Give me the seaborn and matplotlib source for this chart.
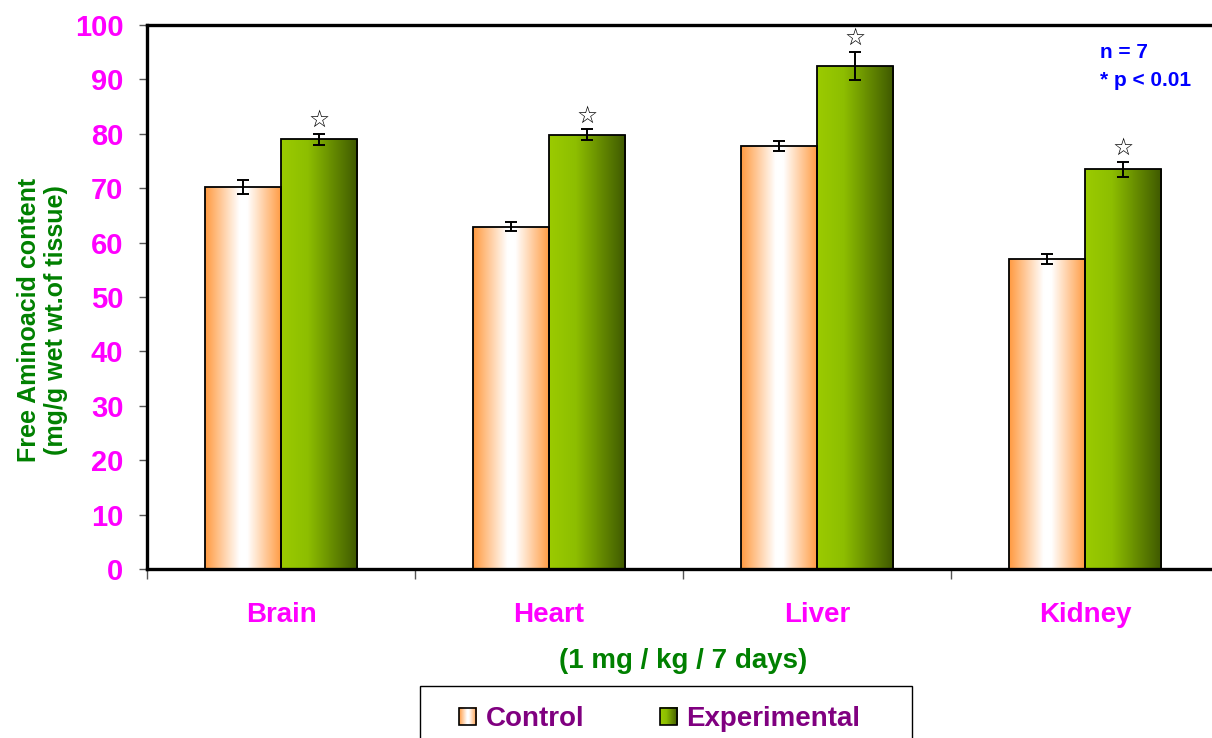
import numpy as np
import pandas as pd
import matplotlib
matplotlib.use("Agg")
import matplotlib.pyplot as plt
import seaborn as sns
from matplotlib.colors import LinearSegmentedColormap
from matplotlib.patches import Rectangle
from matplotlib.legend_handler import HandlerBase
from matplotlib.image import BboxImage
from matplotlib.transforms import Bbox, TransformedBbox

# Tissue free amino acid content (mean ± SE), 1 mg/kg for 7 days
organs = ["Brain", "Heart", "Liver", "Kidney"]
groups = ["Control", "Experimental"]
control = [70.2, 62.9, 77.8, 57.0]
control_se = [1.3, 0.8, 0.95, 0.9]
experimental = [79.0, 79.8, 92.5, 73.5]
experimental_se = [1.0, 1.0, 2.6, 1.4]
y_ticks = [0, 10, 20, 30, 40, 50, 60, 70, 80, 90, 100]

df = pd.DataFrame({
    "organ": organs * 2,
    "group": [groups[0]] * 4 + [groups[1]] * 4,
    "value": control + experimental,
})

sns.set_style("ticks")
plt.rcParams["font.family"] = ["Liberation Sans", "DejaVu Sans"]
plt.rcParams["font.weight"] = "bold"

MAGENTA = "#FF00FF"
GREEN = "#008000"
PURPLE = "#800080"
BLUE = "#0000FF"

cmaps = {
    "Control": LinearSegmentedColormap.from_list(
        "ctrl", [(0, "#FF9A40"), (0.45, "#FFFFFF"), (0.55, "#FFFFFF"), (1, "#FF9A40")]),
    "Experimental": LinearSegmentedColormap.from_list(
        "expt", [(0, "#9BCB00"), (0.35, "#8DBE00"), (1, "#3E5800")]),
}

fig = plt.figure(figsize=(12.12, 7.38), dpi=100)
ax = fig.add_axes([147 / 1212, 169 / 738, 1072 / 1212, 544 / 738])

sns.barplot(data=df, x="organ", y="value", hue="group", order=organs,
            hue_order=groups, width=0.568, errorbar=None, legend=False,
            palette=["#FF9A40", "#8DBE00"], saturation=1, ax=ax)

grad = np.linspace(0, 1, 256).reshape(1, -1)
errs = {"Control": (control, control_se), "Experimental": (experimental, experimental_se)}
for grp, cont in zip(groups, ax.containers):
    xs = []
    for p in cont:
        x, w, h = p.get_x(), p.get_width(), p.get_height()
        xs.append(x + w / 2)
        im = ax.imshow(grad, cmap=cmaps[grp], aspect="auto",
                       extent=[x, x + w, 0, h], zorder=2, interpolation="bicubic")
        im.set_clip_path(p)
        p.set_facecolor("none")
        p.set_edgecolor("black")
        p.set_linewidth(1.3)
        p.set_zorder(3)
    means, ses = errs[grp]
    ax.errorbar(xs, means, yerr=ses, fmt="none", ecolor="black",
                elinewidth=1.4, capsize=4, capthick=1.4, zorder=4)
    if grp == "Experimental":
        # significance markers above the treated bars
        for xc, m, s in zip(xs, means, ses):
            ax.annotate("☆", (xc, m + s), xytext=(0, 10), textcoords="offset points",
                        ha="center", va="center", fontsize=17,
                        family="DejaVu Sans", fontweight="normal", color="black")

ax.set_xlim(-0.5, 3.5)
ax.set_ylim(0, 100)
ax.set_yticks(y_ticks)
ax.set_yticklabels([str(t) for t in y_ticks], color=MAGENTA, fontsize=21, fontweight="bold")
ax.set_xticks(range(len(organs)))
ax.set_xticklabels(organs, color=MAGENTA, fontsize=20, fontweight="bold")
ax.tick_params(axis="x", which="major", length=0, pad=24)
ax.set_xticks([-0.5, 0.5, 1.5, 2.5, 3.5], minor=True)
ax.tick_params(axis="x", which="minor", length=7, width=1, color="#555555", direction="out")
ax.tick_params(axis="y", length=6, width=1, color="#555555", direction="out", pad=11)

for sp in ax.spines.values():
    sp.set_visible(True)
    sp.set_linewidth(2.4)
    sp.set_color("black")

ax.set_xlabel("(1 mg / kg / 7 days)", color=GREEN, fontsize=20, fontweight="bold", labelpad=14)
ax.set_ylabel("Free Aminoacid content\n(mg/g wet wt.of tissue)", color=GREEN,
              fontsize=18, fontweight="bold", linespacing=1.15)
ax.yaxis.set_label_coords(-0.074, 0.458)

ax.text(0.889, 0.966, "n = 7\n* p < 0.01", transform=ax.transAxes, color=BLUE,
        fontsize=15, fontweight="bold", ha="left", va="top", linespacing=1.6)


class GradientHandler(HandlerBase):
    def __init__(self, cmap):
        super().__init__()
        self.cmap = cmap

    def create_artists(self, legend, orig_handle, xdescent, ydescent, width, height,
                       fontsize, trans):
        side = min(width, height)
        bb = Bbox.from_bounds(-xdescent, -ydescent + (height - side) / 2, side, side)
        img = BboxImage(TransformedBbox(bb, trans), cmap=self.cmap, interpolation="bicubic")
        img.set_data(grad)
        rect = Rectangle((-xdescent, -ydescent + (height - side) / 2), side, side,
                         facecolor="none", edgecolor="black", lw=1.2, transform=trans)
        return [img, rect]


handles = [Rectangle((0, 0), 1, 1) for _ in groups]
leg = fig.legend(handles, groups, loc="upper left",
                 bbox_to_anchor=(459 / 1212, 1 - 706 / 738),
                 ncol=2, frameon=False, fontsize=20, borderpad=0, borderaxespad=0,
                 handlelength=0.62, handleheight=0.62, handletextpad=0.35,
                 columnspacing=2.7,
                 handler_map={h: GradientHandler(cmaps[g]) for h, g in zip(handles, groups)})
for t in leg.get_texts():
    t.set_color(PURPLE)
    t.set_fontweight("bold")

fig.patches.append(Rectangle((420 / 1212, -0.1), (912 - 420) / 1212, 0.1 + 52 / 738,
                             transform=fig.transFigure, fill=False,
                             edgecolor="black", lw=1))

fig.savefig("out.png", dpi=100)
